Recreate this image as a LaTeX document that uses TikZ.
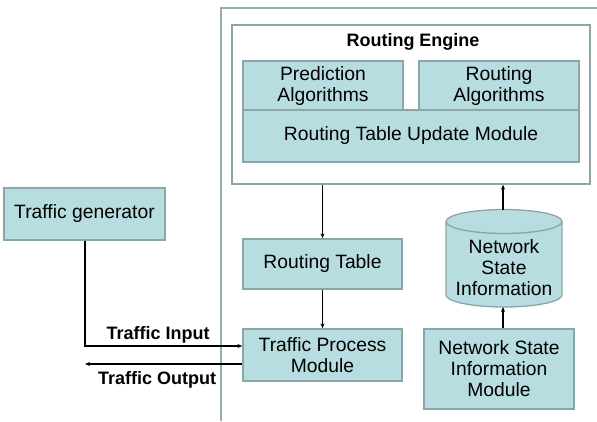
\documentclass[tikz,border=0pt]{standalone}
\usepackage{fontspec}
\setmainfont{Liberation Sans}
\usetikzlibrary{arrows.meta}
\definecolor{boxfill}{RGB}{184,221,224}
\definecolor{boxline}{RGB}{140,165,168}
\definecolor{frameline}{RGB}{150,172,178}
\begin{document}
\begin{tikzpicture}[x=1pt,y=1pt,
  txt/.style={font=\fontsize{19.3}{21}\selectfont, align=center},
  box/.style={txt, draw=boxline, fill=boxfill, line width=1.3pt, inner sep=0pt},
  lbl/.style={font=\fontsize{18}{21}\selectfont\bfseries, inner sep=0pt},
  arr/.style={line width=1.2pt, -{Stealth[length=5pt,width=4pt]}}]
\useasboundingbox (0,0) rectangle (597,421);
% container frame (cut off at right and bottom)
\draw[frameline, line width=1.3pt] (221,0) -- (221,413) -- (597,413);
% routing engine
\node[draw=boxline, fill=white, line width=1.3pt, minimum width=358pt, minimum height=159pt, inner sep=0pt] (engine) at (411,316.5) {};
\node[lbl] (enginelbl) at (413,379) {Routing Engine};
\node[box, minimum width=160pt, minimum height=50pt] (pred) at (323,335) {Prediction\\Algorithms};
\node[box, minimum width=160pt, minimum height=50pt] (ralg) at (499,335) {Routing\\Algorithms};
\node[box, minimum width=336pt, minimum height=52pt] (rtum) at (411,285) {Routing Table Update Module};
% routing table & traffic process
\node[box, minimum width=159pt, minimum height=50pt] (rt) at (322.5,157) {Routing Table};
\node[box, minimum width=159pt, minimum height=52pt] (tpm) at (322.5,66) {Traffic Process\\Module};
% network state information cylinder
\fill[boxfill] (446,199.5) -- (446,126) arc[start angle=180,end angle=360,x radius=58,y radius=12] -- (562,199.5) arc[start angle=0,end angle=180,x radius=58,y radius=12] -- cycle;
\draw[boxline, line width=1.3pt] (446,199.5) -- (446,126) arc[start angle=180,end angle=360,x radius=58,y radius=12] -- (562,199.5);
\draw[boxline, line width=1.3pt, fill=boxfill] (504,199.5) ellipse[x radius=58, y radius=12];
\node[txt, inner sep=0pt] (nsi) at (504,153) {Network\\State\\Information};
\coordinate (nsitop) at (503,211.5);
\coordinate (nsibot) at (503,114);
\node[box, minimum width=150pt, minimum height=80pt] (nsim) at (499,52) {Network State\\Information\\Module};
% traffic generator
\node[box, minimum width=161pt, minimum height=52pt] (gen) at (84.5,207) {Traffic generator};
\coordinate (bend) at (85,75);
\coordinate (outend) at (85,57);
% connectors
\draw[arr] (engine.south -| rt) -- (rt.north);
\draw[arr] (rt.south) -- (tpm.north);
\draw[arr] (nsim.north -| nsibot) -- (nsibot);
\draw[arr] (nsitop) -- (nsitop |- engine.south);
\draw[arr] (gen.south -| bend) -- (bend) -- (bend -| tpm.west);
\draw[arr] (outend -| tpm.west) -- (outend);
\node[lbl] (inlbl) at (158,86) {Traffic Input};
\node[lbl] (outlbl) at (157,41) {Traffic Output};
\end{tikzpicture}
\end{document}
